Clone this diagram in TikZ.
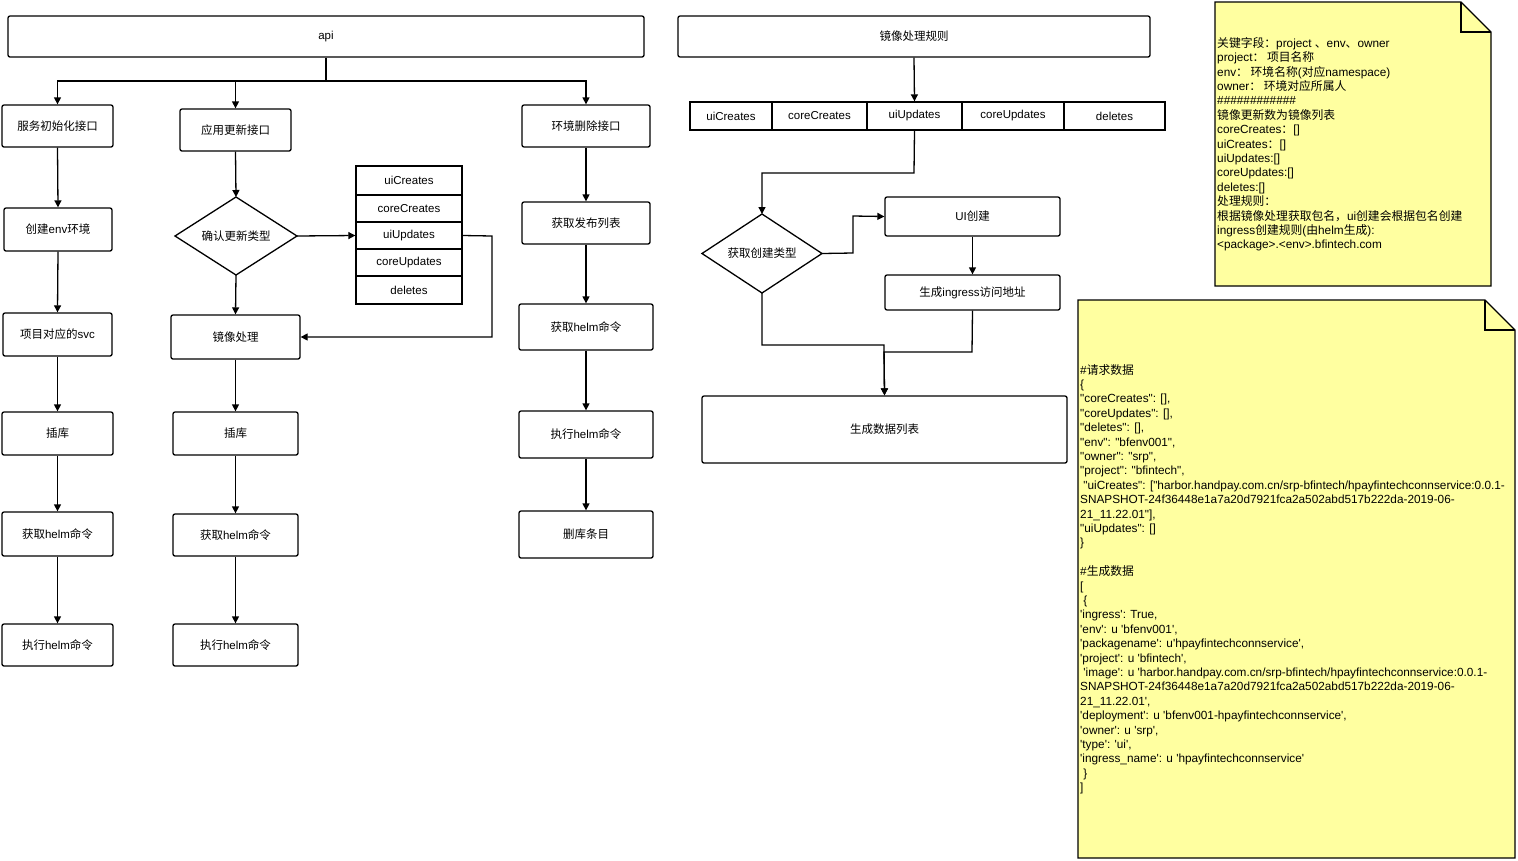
\documentclass[tikz,border=0pt]{standalone}
\usepackage{fontspec}
\newfontfamily\lat{Liberation Sans}
\newfontfamily\cjk{Noto Sans CJK SC}
\newcommand\zh[1]{{\cjk #1}}
\usetikzlibrary{arrows.meta}
\definecolor{notey}{HTML}{FFFFA0}
\tikzset{
 box/.style={draw, line width=1.3pt, rounded corners=2pt, font=\lat\fontsize{11.5}{13}\selectfont, inner sep=0pt},
 cell/.style={draw, line width=1.3pt, font=\lat\fontsize{11.5}{13}\selectfont, inner sep=0pt},
 dia/.style={draw, line width=1.3pt, font=\lat\fontsize{11.5}{13}\selectfont, inner sep=0pt},
 arr/.style={line width=1.3pt, -{Triangle[length=7pt,width=7pt]}},
 ln/.style={line width=1.3pt},
 notetext/.style={font=\lat\fontsize{11.8}{14.4}\selectfont, align=left, anchor=north west, inner sep=0pt},
}
\newcommand\bx[6]{\node[box, minimum width={#4-#2}, minimum height={#5-#3}] (#1) at ({(#2+#4)/2},{(#3+#5)/2}) {#6};}
\newcommand\cl[6]{\node[cell, minimum width={#4-#2}, minimum height={#5-#3}] (#1) at ({(#2+#4)/2},{(#3+#5)/2}) {#6};}
\newcommand\dm[6]{\coordinate (#1) at ({(#2+#4)/2},{(#3+#5)/2});
 \draw[line width=1.3pt] (#2,{(#3+#5)/2}) -- ({(#2+#4)/2},#3) -- (#4,{(#3+#5)/2}) -- ({(#2+#4)/2},#5) -- cycle;
 \node[font=\lat\fontsize{11.5}{13}\selectfont] at (#1) {#6};
 \coordinate (#1-n) at ({(#2+#4)/2},#3); \coordinate (#1-s) at ({(#2+#4)/2},#5);
 \coordinate (#1-e) at (#4,{(#3+#5)/2}); \coordinate (#1-w) at (#2,{(#3+#5)/2});}
\begin{document}
\begin{tikzpicture}[x=1pt,y=-1pt]
\useasboundingbox (0,0) rectangle (1518,860);
\fill[white] (0,0) rectangle (1518,860);
% api
\bx{api}{8}{16}{644}{57}{api}
\coordinate (fork) at (326,81);
% column 1
\bx{a1}{2}{105}{113}{147}{\zh{服务初始化接口}}
\bx{a2}{4}{208}{112}{251}{\zh{创建}env\zh{环境}}
\bx{a3}{3}{313}{112}{356}{\zh{项目对应的}svc}
\bx{a4}{2}{412}{113}{455}{\zh{插库}}
\bx{a5}{2}{512}{113}{556}{\zh{获取}helm\zh{命令}}
\bx{a6}{2}{624}{113}{666}{\zh{执行}helm\zh{命令}}
% column 2
\bx{b1}{180}{109}{291}{151}{\zh{应用更新接口}}
\dm{bd}{175}{197}{297}{275}{\zh{确认更新类型}}
\bx{b2}{171}{315}{300}{359}{\zh{镜像处理}}
\bx{b3}{173}{412}{298}{455}{\zh{插库}}
\bx{b4}{173}{514}{298}{556}{\zh{获取}helm\zh{命令}}
\bx{b5}{173}{624}{298}{666}{\zh{执行}helm\zh{命令}}
\cl{l1}{356}{166}{462}{195}{uiCreates}
\cl{l2}{356}{195}{462}{222}{coreCreates}
\cl{l3}{356}{222}{462}{249}{uiUpdates}
\cl{l4}{356}{249}{462}{276}{coreUpdates}
\cl{l5}{356}{276}{462}{304}{deletes}
% column 3
\bx{c1}{522}{105}{650}{147}{\zh{环境删除接口}}
\bx{c2}{522}{202}{650}{244}{\zh{获取发布列表}}
\bx{c3}{519}{304}{653}{350}{\zh{获取}helm\zh{命令}}
\bx{c4}{519}{411}{653}{458}{\zh{执行}helm\zh{命令}}
\bx{c5}{519}{511}{653}{558}{\zh{删库条目}}
% right
\bx{r}{678}{16}{1150}{57}{\zh{镜像处理规则}}
\cl{t1}{690}{102}{772}{130}{uiCreates}
\cl{t2}{772}{102}{867}{130}{coreCreates}
\cl{t3}{867}{102}{962}{130}{uiUpdates}
\cl{t4}{962}{102}{1064}{130}{coreUpdates}
\cl{t5}{1064}{102}{1165}{130}{deletes}
\dm{rd}{702}{214}{822}{293}{\zh{获取创建类型}}
\bx{u1}{885}{197}{1060}{236}{UI\zh{创建}}
\bx{u2}{885}{275}{1060}{310}{\zh{生成}ingress\zh{访问地址}}
\bx{gen}{702}{396}{1067}{463}{\zh{生成数据列表}}
% connectors
\draw[ln] (api.south) -- (fork);
\draw[arr] (fork) -| (a1.north);
\draw[arr] (fork) -| (b1.north);
\draw[arr] (fork) -| (c1.north);
\foreach \p/\q in {a1/a2,a2/a3,a3/a4,a4/a5,a5/a6,b2/b3,b3/b4,b4/b5,c1/c2,c2/c3,c3/c4,c4/c5}
 \draw[arr] (\p.south) -- (\q.north);
\draw[arr] (b1.south) -- (bd-n);
\draw[arr] (bd-s) -- (b2.north);
\draw[arr] (bd-e) -- (l3.west);
\draw[arr] (l3.east) -- (492,236) -- (492,337) -- (b2.east);
\draw[arr] (r.south) -- (t3.north);
\draw[arr] (t3.south) -- (914,173) -- (762,173) -- (rd-n);
\draw[arr] (rd-e) -- (853,253) -- (853,216) -- (u1.west);
\draw[arr] (u1.south) -- (u2.north);
\draw[arr] (u2.south) -- (972,352) -- (884,352) -- (gen.north);
\draw[arr] (rd-s) -- (762,345) -- (884,345) -- (gen.north);
% notes
\draw[line width=1.3pt, fill=notey] (1215,2) -- (1461,2) -- (1491,32) -- (1491,286) -- (1215,286) -- cycle;
\draw[line width=1.3pt] (1461,2) -- (1461,32) -- (1491,32);
\node[notetext] (n1) at (1217,37) {\zh{关键字段：}project \zh{、}env\zh{、}owner\\
project\zh{：~项目名称}\\
env\zh{：~环境名称}(\zh{对应}namespace)\\
owner\zh{：~环境对应所属人}\\
\#\#\#\#\#\#\#\#\#\#\#\#\\
\zh{镜像更新数为镜像列表}\\
coreCreates\zh{：}[]\\
uiCreates\zh{：}[]\\
uiUpdates:[]\\
coreUpdates:[]\\
deletes:[]\\
\zh{处理规则：}\\
\zh{根据镜像处理获取包名，}ui\zh{创建会根据包名创建}\\
ingress\zh{创建规则}(\zh{由}helm\zh{生成}):\\
<package>.<env>.bfintech.com};
\draw[line width=1.3pt, fill=notey] (1078,300) -- (1485,300) -- (1515,330) -- (1515,858) -- (1078,858) -- cycle;
\draw[line width=1.3pt] (1485,300) -- (1485,330) -- (1515,330);
\node[notetext] (n2) at (1080,364) {\#\zh{请求数据}\\
\{\\
"coreCreates": [],\\
"coreUpdates": [],\\
"deletes": [],\\
"env": "bfenv001",\\
"owner": "srp",\\
"project": "bfintech",\\
~"uiCreates": ["harbor.handpay.com.cn/srp-bfintech/hpayfintechconnservice:0.0.1-\\
SNAPSHOT-24f36448e1a7a20d7921fca2a502abd517b222da-2019-06-\\
21\_11.22.01"],\\
"uiUpdates": []\\
\}\\
\mbox{}\\
\#\zh{生成数据}\\
{[}\\
~\{\\
'ingress': True,\\
'env': u 'bfenv001',\\
'packagename': u'hpayfintechconnservice',\\
'project': u 'bfintech',\\
~'image': u 'harbor.handpay.com.cn/srp-bfintech/hpayfintechconnservice:0.0.1-\\
SNAPSHOT-24f36448e1a7a20d7921fca2a502abd517b222da-2019-06-\\
21\_11.22.01',\\
'deployment': u 'bfenv001-hpayfintechconnservice',\\
'owner': u 'srp',\\
'type': 'ui',\\
'ingress\_name': u 'hpayfintechconnservice'\\
~\}\\
{]}};
\end{tikzpicture}
\end{document}
